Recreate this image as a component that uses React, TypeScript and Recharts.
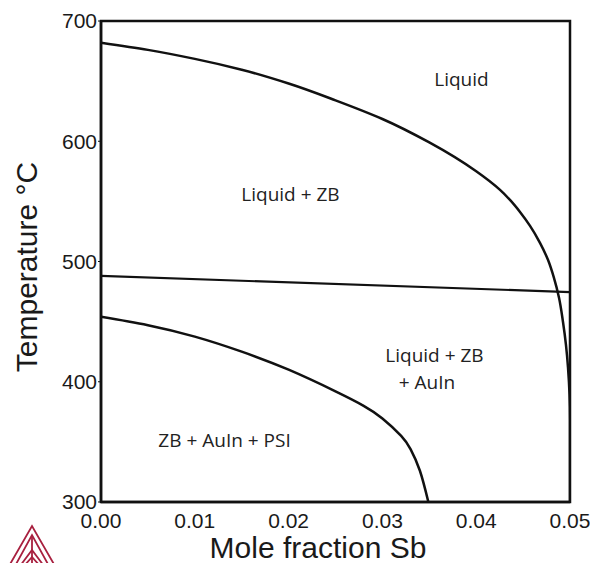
import React from "react";
import { Line, LineChart, ReferenceArea, ReferenceDot, XAxis, YAxis } from "recharts";

const X_TICKS = [0, 0.01, 0.02, 0.03, 0.04, 0.05];
const Y_TICKS = [300, 400, 500, 600, 700];

// liquidus: Liquid / Liquid + ZB boundary, runs into the right edge
const LIQUIDUS = [
  { x: 0, t: 682 },
  { x: 0.005, t: 676 },
  { x: 0.01, t: 668.5 },
  { x: 0.015, t: 659.5 },
  { x: 0.02, t: 648 },
  { x: 0.025, t: 634 },
  { x: 0.03, t: 618.5 },
  { x: 0.035, t: 599 },
  { x: 0.04, t: 575 },
  { x: 0.04254, t: 559.5 },
  { x: 0.0436, t: 551.2 },
  { x: 0.04467, t: 541.2 },
  { x: 0.04574, t: 529.6 },
  { x: 0.0468, t: 515.5 },
  { x: 0.04765, t: 501.4 },
  { x: 0.04829, t: 486.4 },
  { x: 0.04883, t: 469.8 },
  { x: 0.04925, t: 449.9 },
  { x: 0.04957, t: 430.7 },
  { x: 0.04979, t: 411.6 },
  { x: 0.04995, t: 389.2 },
  { x: 0.05, t: 368.4 },
  { x: 0.05, t: 300 },
];

// three-phase line, almost flat
const EUTECTIC = [
  { x: 0, t: 488 },
  { x: 0.05, t: 474.6 },
];

// ZB + AuIn + PSI boundary
const SOLVUS = [
  { x: 0, t: 454 },
  { x: 0.005, t: 447 },
  { x: 0.01, t: 437.5 },
  { x: 0.015, t: 425 },
  { x: 0.02, t: 410 },
  { x: 0.025, t: 392 },
  { x: 0.028, t: 380 },
  { x: 0.03, t: 369.5 },
  { x: 0.032, t: 355 },
  { x: 0.033, t: 344 },
  { x: 0.034, t: 326 },
  { x: 0.0349, t: 300 },
];

const REGION_LABELS = [
  { text: "Liquid", x: 0.03843, t: 651.8 },
  { text: "Liquid + ZB", x: 0.0202, t: 556.1 },
  { text: "Liquid + ZB", x: 0.03555, t: 422.2 },
  { text: "+ AuIn", x: 0.03475, t: 399.6 },
  { text: "ZB + AuIn + PSI", x: 0.01317, t: 351.6 },
];

const TICK_FONT = { fill: "#1a1a1a", fontSize: 21, fontFamily: "Arial, 'Liberation Sans', sans-serif" };
const LINE_COLOR = "#111";
const LOGO_RED = "#a8203f";

export default function App() {
  return (
    <div style={{ position: "absolute", left: 0, top: 0, width: 590, height: 563, background: "#fff" }}>
      <LineChart width={590} height={563} margin={{ top: 21, right: 20, bottom: 0, left: 0 }}>
        <XAxis
          type="number"
          dataKey="x"
          domain={[0, 0.05]}
          ticks={X_TICKS}
          tickFormatter={(v: number) => v.toFixed(2)}
          allowDataOverflow
          height={61}
          tick={TICK_FONT}
          tickLine={false}
          tickSize={0}
          tickMargin={11}
          axisLine={{ stroke: LINE_COLOR, strokeWidth: 2.5 }}
        />
        <YAxis
          type="number"
          dataKey="t"
          domain={[300, 700]}
          ticks={Y_TICKS}
          allowDataOverflow
          width={101}
          tick={TICK_FONT}
          tickLine={{ stroke: LINE_COLOR, strokeWidth: 1 }}
          tickSize={3}
          tickMargin={1}
          axisLine={{ stroke: LINE_COLOR, strokeWidth: 2.5 }}
        />
        <ReferenceArea x1={0} x2={0.05} y1={300} y2={700} fill="none" stroke={LINE_COLOR} strokeWidth={2.5} />
        <Line data={LIQUIDUS} dataKey="t" type="monotoneY" stroke={LINE_COLOR} strokeWidth={2.5} dot={false} isAnimationActive={false} />
        <Line data={EUTECTIC} dataKey="t" type="linear" stroke={LINE_COLOR} strokeWidth={2.2} dot={false} isAnimationActive={false} />
        <Line data={SOLVUS} dataKey="t" type="natural" stroke={LINE_COLOR} strokeWidth={2.5} dot={false} isAnimationActive={false} />
        {REGION_LABELS.map((item, i) => (
          <ReferenceDot
            key={i}
            x={item.x}
            y={item.t}
            r={0}
            fill="none"
            stroke="none"
            label={{
              value: item.text,
              position: "center",
              fill: "#222",
              fontSize: 19,
              fontFamily: "'Open Sans', 'Noto Sans', sans-serif",
            }}
          />
        ))}
      </LineChart>
      <svg
        width={590}
        height={563}
        style={{ position: "absolute", left: 0, top: 0, pointerEvents: "none" }}
      >
        <text
          x={318}
          y={558}
          textAnchor="middle"
          fontSize={30}
          fill="#1a1a1a"
          fontFamily="Arial, 'Liberation Sans', sans-serif"
        >
          Mole fraction Sb
        </text>
        <text
          transform="translate(37, 267) rotate(-90)"
          textAnchor="middle"
          fontSize={30}
          fill="#1a1a1a"
          fontFamily="Arial, 'Liberation Sans', sans-serif"
        >
          Temperature °C
        </text>
        {/* logo in the corner */}
        <g stroke={LOGO_RED} strokeWidth={1.8} fill="none">
          <polyline points="9,566 32,526 55,566" />
          <polyline points="15,566 32,535 49,566" />
          <line x1={32} y1={535} x2={32} y2={566} />
          <polyline points="20,566 32,550 44,566" />
          <polyline points="24,566 32,557 40,566" />
        </g>
      </svg>
    </div>
  );
}
